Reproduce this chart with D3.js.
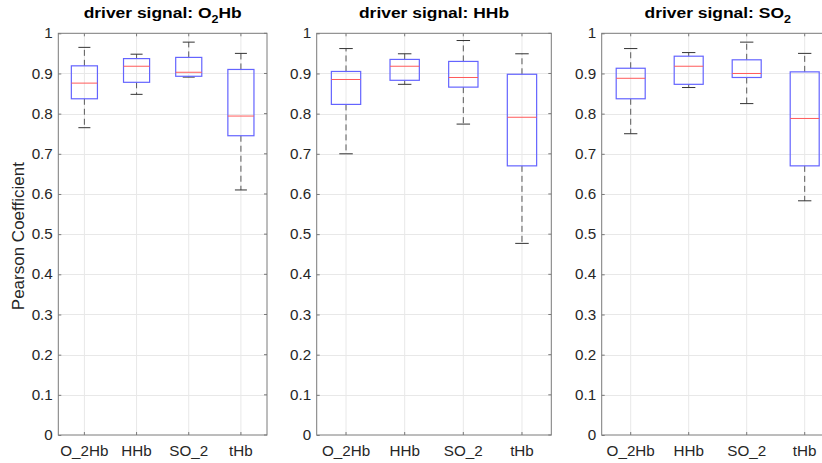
<!DOCTYPE html>
<html>
<head>
<meta charset="utf-8">
<script src="https://cdn.jsdelivr.net/npm/d3@7"></script>
<style>
  html, body { margin: 0; padding: 0; background: #fff; }
  svg { display: block; font-family: "Liberation Sans", Arial, Helvetica, sans-serif; }
</style>
</head>
<body>
<svg id="chart" width="822" height="463"></svg>
<script>
// Channel names on the x axis of every panel
const categories = ["O_2Hb", "HHb", "SO_2", "tHb"];

// Driver signal of each panel: main text and subscripted part
const driverNames = [
  { pre: "driver signal: O", sub: "2", post: "Hb" },
  { pre: "driver signal: HHb", sub: "", post: "" },
  { pre: "driver signal: SO", sub: "2", post: "" }
];

// Five-number summaries per channel: [lower whisker, Q1, median, Q3, upper whisker]
const statsDriverO2Hb = [
  [0.765, 0.837, 0.876, 0.919, 0.965],
  [0.848, 0.878, 0.918, 0.937, 0.948],
  [0.891, 0.893, 0.903, 0.940, 0.978],
  [0.610, 0.745, 0.794, 0.910, 0.950]
];
const statsDriverHHb = [
  [0.700, 0.823, 0.885, 0.905, 0.962],
  [0.873, 0.883, 0.918, 0.935, 0.949],
  [0.774, 0.866, 0.890, 0.930, 0.982],
  [0.477, 0.670, 0.791, 0.898, 0.949]
];
const statsDriverSO2 = [
  [0.750, 0.837, 0.888, 0.913, 0.962],
  [0.865, 0.873, 0.918, 0.943, 0.952],
  [0.825, 0.890, 0.900, 0.934, 0.978],
  [0.583, 0.670, 0.788, 0.904, 0.950]
];

// Y axis tick values
const yTicks = [0, 0.1, 0.2, 0.3, 0.4, 0.5, 0.6, 0.7, 0.8, 0.9, 1];

const panelStats = [statsDriverO2Hb, statsDriverHHb, statsDriverSO2];

// Plot-area frames of the three panels
const frames = [
  { left: 58.3, right: 267.0 },
  { left: 316.7, right: 551.3 },
  { left: 601.7, right: 833.7 }
];
const plotTop = 33.3, plotBottom = 435;

const svg = d3.select("#chart");

const y = d3.scaleLinear().domain([0, 1]).range([plotBottom, plotTop]);

const axisColor = "#7a7a7a";
const gridColor = "#e8e8e8";
const boxColor = "#6464ff";
const medColor = "#ff5a5a";
const whiskColor = "#5a5a5a";
const textColor = "#262626";
const tickLen = 3;
const tickFont = "14.5px";
const wide = 1.05;   // slight horizontal widening of the axis text

frames.forEach((f, pi) => {
  const g = svg.append("g");
  const x = d3.scaleBand().domain(categories).range([f.left, f.right]).paddingInner(0).paddingOuter(0);
  const cx = d => x(d) + x.bandwidth() / 2;
  const boxHalf = x.bandwidth() * 0.25;
  const capHalf = x.bandwidth() * 0.115;

  // grid lines
  g.append("g").selectAll("line").data(yTicks.slice(1, -1)).join("line")
    .attr("x1", f.left).attr("x2", f.right)
    .attr("y1", d => Math.round(y(d)) + 0.5).attr("y2", d => Math.round(y(d)) + 0.5)
    .attr("stroke", gridColor).attr("stroke-width", 1);
  g.append("g").selectAll("line").data(categories).join("line")
    .attr("x1", d => cx(d)).attr("x2", d => cx(d))
    .attr("y1", plotTop).attr("y2", plotBottom)
    .attr("stroke", gridColor).attr("stroke-width", 1);

  // left axis with labels
  const yAxis = d3.axisLeft(y).tickValues(yTicks).tickFormat(d3.format("~g"))
    .tickSizeInner(-tickLen).tickSizeOuter(0);
  const ya = g.append("g").attr("transform", `translate(${f.left},0)`).call(yAxis);
  ya.select(".domain").remove();
  ya.selectAll("line").attr("stroke", axisColor);
  ya.selectAll("text")
    .attr("x", -5.5 / wide)
    .attr("transform", `scale(${wide},1)`)
    .attr("fill", textColor).style("font-size", tickFont);

  // right-side ticks
  g.append("g").selectAll("line").data(yTicks).join("line")
    .attr("x1", f.right).attr("x2", f.right - tickLen)
    .attr("y1", d => y(d)).attr("y2", d => y(d))
    .attr("stroke", axisColor);

  // bottom axis with labels
  const xAxis = d3.axisBottom(x).tickSizeInner(-tickLen).tickSizeOuter(0).tickPadding(10.7);
  const xa = g.append("g").attr("transform", `translate(0,${plotBottom})`).call(xAxis);
  xa.select(".domain").remove();
  xa.selectAll("line").attr("stroke", axisColor);
  xa.selectAll("text")
    .attr("transform", `scale(${wide},1)`)
    .attr("fill", textColor).style("font-size", tickFont);

  // top ticks
  g.append("g").selectAll("line").data(categories).join("line")
    .attr("x1", d => cx(d)).attr("x2", d => cx(d))
    .attr("y1", plotTop).attr("y2", plotTop + tickLen)
    .attr("stroke", axisColor);

  // frame
  g.append("rect")
    .attr("x", f.left).attr("y", plotTop)
    .attr("width", f.right - f.left).attr("height", plotBottom - plotTop)
    .attr("fill", "none").attr("stroke", axisColor).attr("stroke-width", 1);

  // boxplots
  const rows = panelStats[pi].map((s, i) => ({ cat: categories[i], s }));
  const bx = g.append("g").selectAll("g").data(rows).join("g");

  // whiskers (dashed)
  bx.append("line")
    .attr("x1", d => cx(d.cat)).attr("x2", d => cx(d.cat))
    .attr("y1", d => y(d.s[3])).attr("y2", d => y(d.s[4]))
    .attr("stroke", whiskColor).attr("stroke-dasharray", "6,4");
  bx.append("line")
    .attr("x1", d => cx(d.cat)).attr("x2", d => cx(d.cat))
    .attr("y1", d => y(d.s[1])).attr("y2", d => y(d.s[0]))
    .attr("stroke", whiskColor).attr("stroke-dasharray", "6,4");
  // whisker caps
  [0, 4].forEach(k => {
    bx.append("line")
      .attr("x1", d => cx(d.cat) - capHalf).attr("x2", d => cx(d.cat) + capHalf)
      .attr("y1", d => y(d.s[k])).attr("y2", d => y(d.s[k]))
      .attr("stroke", "#333");
  });
  // box
  bx.append("rect")
    .attr("x", d => cx(d.cat) - boxHalf)
    .attr("y", d => y(d.s[3]))
    .attr("width", boxHalf * 2)
    .attr("height", d => y(d.s[1]) - y(d.s[3]))
    .attr("fill", "none").attr("stroke", boxColor).attr("stroke-width", 1.2);
  // median
  bx.append("line")
    .attr("x1", d => cx(d.cat) - boxHalf).attr("x2", d => cx(d.cat) + boxHalf)
    .attr("y1", d => y(d.s[2])).attr("y2", d => y(d.s[2]))
    .attr("stroke", medColor).attr("stroke-width", 1);

  // title
  const name = driverNames[pi];
  const t = svg.append("text")
    .attr("transform", `translate(${(f.left + f.right) / 2},18.3) scale(1.14,1)`)
    .attr("text-anchor", "middle")
    .style("font-size", "15.3px").style("font-weight", "bold").attr("fill", "#000");
  t.append("tspan").text(name.pre);
  if (name.sub) {
    t.append("tspan").text(name.sub).attr("dy", 4.5).style("font-size", "11px");
    if (name.post) t.append("tspan").text(name.post).attr("dy", -4.5);
  }
});

// y axis title
svg.append("text")
  .attr("transform", `translate(24,${(plotTop + plotBottom) / 2 + 2}) rotate(-90)`)
  .attr("text-anchor", "middle")
  .style("font-size", "17px").attr("fill", textColor)
  .text("Pearson Coefficient");
</script>
</body>
</html>
